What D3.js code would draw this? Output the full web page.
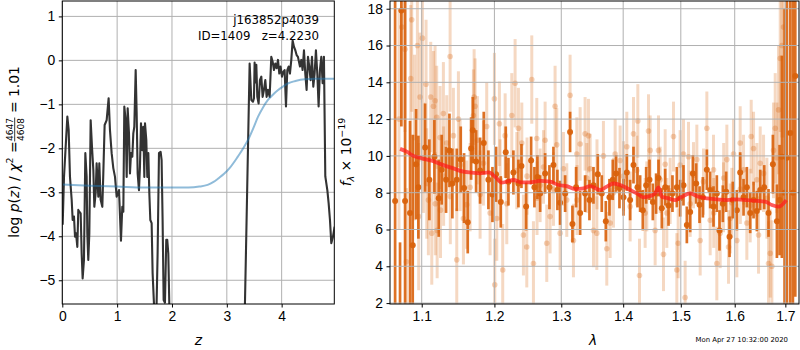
<!DOCTYPE html>
<html>
<head>
<meta charset="utf-8">
<script src="https://cdn.jsdelivr.net/npm/d3@7"></script>
<style>
  html, body { margin: 0; padding: 0; background: #fff; }
  svg { display: block; font-family: "DejaVu Sans", sans-serif; }
  .tick text { font-size: 13.9px; fill: #000; }
  .tick line { stroke: #000; }
</style>
</head>
<body>
<svg id="fig" width="800" height="350"></svg>
<script>
// ---- redshift probability, log p(z) ----
const pzZ = [0.007,0.031,0.092,0.116,0.140,0.171,0.189,0.213,0.232,0.250,0.274,0.292,0.310,0.335,0.353,0.371,0.395,0.420,0.444,0.456,0.474,0.493,0.517,0.541,0.566,0.584,0.608,0.626,0.657,0.675,0.699,0.730,0.748,0.772,0.809,0.845,0.869,0.900,0.930,
  0.961,0.991,1.034,1.070,1.094,1.113,1.131,1.155,1.174,1.192,1.216,1.234,1.253,1.277,1.295,1.313,1.338,1.356,1.374,1.398,1.416,1.435,1.459,1.477,1.496,1.508,1.532,1.550,1.569,1.587,1.605,1.629,1.647,1.671,1.690,1.720,1.738,1.763,1.793,1.811,1.829,1.848,1.872,1.896,1.914,1.933,1.951,1.975,
  2.2,2.6,3.0,3.30,
  3.416,3.447,3.477,3.495,3.507,3.525,3.538,3.556,3.580,3.604,3.629,3.653,3.677,3.702,3.726,3.750,3.781,3.811,3.836,3.860,3.884,3.908,3.933,3.957,3.981,4.006,4.030,4.054,4.079,4.103,4.127,4.151,4.176,4.200,4.224,4.249,4.273,4.297,4.334,4.358,4.382,4.407,4.431,4.455,4.480,4.504,4.528,4.553,4.577,4.601,4.625,4.650,4.674,4.698,4.723,4.747,4.771,4.796,4.833,4.857,4.881,4.905,4.936,4.966];
const pzLog = [-3.74,-2.65,-1.28,-1.58,-2.65,-3.17,-3.63,-3.55,-4.01,-3.93,-4.24,-3.40,-3.44,-3.48,-4.39,-4.96,-4.54,-2.11,-2.65,-3.93,-4.54,-3.93,-1.36,-1.96,-2.49,-3.33,-3.02,-2.34,-3.10,-2.34,-3.17,-3.33,-2.57,-1.47,-1.36,-0.86,-1.58,-2.11,-2.45,
  -2.65,-3.10,-2.95,-4.10,-3.33,-3.44,-1.05,-1.36,-2.65,-1.09,-1.66,-2.57,-2.11,-2.19,-1.66,-1.51,-0.22,-1.20,-2.57,-2.95,-2.42,-1.43,-2.04,-1.51,-2.65,-1.43,-1.81,-2.65,-2.11,-3.02,-3.63,-3.70,-4.84,-5.52,-6.05,-5.52,-4.39,-2.11,-2.08,-2.27,-3.63,-5.45,-5.51,-4.08,-4.08,-4.39,-5.52,-7.0,
  -9.0,-10.0,-9.5,-7.5,
  -0.07,-0.90,-0.94,-0.86,-0.05,-0.50,-0.10,-0.83,-0.98,-0.45,-0.37,-0.83,-0.67,-0.45,-0.83,-0.67,-0.83,0.08,-0.03,-0.22,-0.07,-0.18,0.01,-0.30,-0.14,-0.37,-0.26,-0.22,-1.05,-0.22,-0.14,-0.30,0.01,0.45,0.31,0.23,0.12,0.08,-0.14,0.01,-0.22,0.23,-0.30,-0.67,0.08,-0.14,-0.45,0.08,-0.60,-0.30,0.23,-0.30,-1.05,-0.22,0.08,-0.52,0.08,-2.64,-2.95,-3.25,-3.63,-4.16,-4.01,-3.78];

// smooth prior curve
const priorZ   = [0, 0.5, 1.0, 1.5, 2.0, 2.3, 2.5, 2.65, 2.75, 2.85, 2.95, 3.05, 3.2, 3.3, 3.39, 3.48, 3.57, 3.66, 3.75, 3.84, 3.93, 4.02, 4.12, 4.25, 4.42, 4.6, 4.8, 4.96];
const priorLog = [-2.82,-2.85,-2.87,-2.89,-2.89,-2.89,-2.87,-2.83,-2.77,-2.68,-2.58,-2.45,-2.19,-2.0,-1.8,-1.55,-1.28,-1.07,-0.90,-0.78,-0.68,-0.60,-0.52,-0.47,-0.43,-0.42,-0.42,-0.42];

const zTicks = [0, 1, 2, 3, 4];
const logTicks = [-5, -4, -3, -2, -1, 0, 1];

// ---- spectrum: lightly weighted points ----
const lightWave = [1.0741,1.0782,1.0869,1.0943,1.0856,1.1009,1.1057,1.0978,1.1119,1.1177,1.1155,1.1199,1.1289,1.1380,1.1494,1.1425,1.1244,1.1334,1.1088,1.1180,1.1250,1.1133,1.1471,1.1205,1.1609,1.1712,1.1726,1.1702,1.1758,1.1890,1.2000,1.2034,1.2072,1.2155,1.2120,1.2005,1.2252,1.2301,1.2350,1.2400,1.2424,1.2474,1.2549,1.2574,1.2624,1.2675,1.2751,1.2776,1.2827,1.2904,1.2930,1.2982,1.3086,1.3138,1.3191,1.3244,1.3297,1.3376,1.3430,1.3457,1.3511,1.3565,1.3673,1.3728,1.3783,1.3866,1.3949,1.4061,1.4117,1.4174,1.4248,1.4276,1.4373,1.4431,1.4460,1.4546,1.4605,1.4692,1.4722,1.4810,1.4869,1.4929,1.4953,1.5048,1.5078,1.5139,1.5230,1.5291,1.5352,1.5475,1.5537,1.5599,1.5661,1.5724,1.5787,1.5850,1.5882,1.5945,1.5977,1.6041,1.6105,1.6170,1.6234,1.6319,1.6365,1.6430,1.6463,1.6562,1.6661,1.6695,1.6728,1.6761,1.6795,1.6896,1.6929,1.6963,
  1.1022,1.1066,1.1292,1.1383,1.1517,1.1563,1.1656,1.1796,1.1843,1.1938,1.2082,1.2179,1.2326,1.2478,1.2628,1.2726,1.2879,1.3034,1.3248,1.3403,1.3568,1.3838,1.4005,1.4231,1.4402,1.4634,1.4751,1.4988,1.5169,1.5413,1.5603,1.5790,1.5914,1.6108,1.6299,1.6496,1.6628,1.6829,1.6862,
  1.0705,1.0800,1.0905,1.0960];
const lightFlux = [17.0,15.8,17.4,16.0,14.2,16.4,13.9,13.2,13.2,13.0,12.7,12.1,12.3,15.4,12.0,11.1,11.0,10.7,7.6,7.4,7.05,5.8,4.35,5.95,7.35,13.2,12.7,12.2,10.85,11.6,13.1,6.6,11.75,11.1,3.8,3.0,12.2,13.95,11.5,10.7,5.7,5.05,14.15,4.15,10.95,8.4,10.85,5.25,6.7,12.7,10.6,5.8,7.6,13.3,5.4,10.1,10.65,11.2,11.1,9.3,5.95,5.8,10.0,4.95,6.35,10.1,9.75,10.5,7.25,11.2,11.9,3.5,6.9,11.35,10.3,5.95,10.3,4.65,9.55,8.1,11.05,3.8,5.25,10.1,2.3,9.95,8.95,9.8,5.4,11.5,6.5,9.25,4.15,5.8,7.75,9.8,5.05,7.45,10.1,5.4,10.7,9.25,6.35,11.05,10.4,8.7,5.7,9.05,4.15,4.7,4.0,10.3,11.5,15.3,16.0,17.0,
  9.9,8.5,8.9,7.8,9.5,6.6,8.3,7.9,9.6,6.9,8.7,7.4,9.2,8.9,7.7,9.4,8.2,9.3,7.6,8.8,9.0,8.0,8.9,9.2,7.8,8.7,6.9,9.5,7.4,8.6,6.9,8.8,6.6,8.2,7.3,9.6,7.7,9.9,12.5,
  12.0,4.25,11.0,6.7];
const lightErr = [5,4.5,5,4,4,3.5,3.5,3.5,3,3,3,2.8,2.8,3,2.6,2.6,2.8,2.6,3,2.8,2.6,2.8,2.8,2.6,2.4,2.6,2.6,2.5,2.4,2.4,2.5,2.3,2.3,2.3,2.5,2.5,2.3,2.4,2.2,2.2,2.2,2.2,2.4,2.3,2.2,2.0,2.1,2.1,2.0,2.2,2.0,2.0,2.0,2.2,2.0,2.0,2.0,2.0,2.0,1.9,2.0,2.0,1.9,2.0,1.9,1.9,1.9,1.9,1.9,2.0,2.0,2.0,1.9,2.0,1.9,1.9,1.9,2.0,1.9,1.8,1.9,2.0,1.9,1.9,2.0,1.9,1.8,1.9,1.9,2.0,1.9,1.9,2.0,1.9,1.9,1.9,2.0,1.9,1.9,2.0,2.0,1.9,2.0,2.0,2.0,2.0,2.1,2.1,2.3,2.4,2.5,2.6,3,4,5,6,
  3,3,2.7,2.6,2.5,2.5,2.4,2.4,2.3,2.3,2.2,2.2,2.1,2.1,2.0,2.0,2.0,2.0,1.9,1.9,1.9,1.9,1.9,1.9,1.9,1.8,1.9,1.9,1.8,1.8,1.9,1.9,1.9,1.9,2.0,2.0,2.2,3.0,3.5,
  6,4,4.5,4];

// ---- spectrum: strongly weighted points ----
const darkWave = [1.0655,1.0718,1.0735,1.0783,1.0847,1.0882,1.0926,1.0956,1.1044,1.1101,1.1168,1.1226,1.1266,1.1325,1.1371,1.1411,1.1471,1.1526,1.1572,1.1623,1.1670,1.1693,1.1740,1.1796,1.1848,1.1914,1.1972,1.2024,1.2092,1.2164,1.2203,1.2276,1.2350,1.2395,1.2464,1.2539,1.2589,1.2634,1.2675,1.2751,1.2817,1.2879,1.2940,1.2982,1.3060,1.3138,1.3175,1.3233,1.3297,1.3376,1.3446,1.3511,1.3581,1.3646,1.3712,1.3772,1.3827,1.3883,1.3938,1.4005,1.4061,1.4117,1.4174,1.4242,1.4287,1.4333,1.4391,1.4448,1.4506,1.4563,1.4605,1.4663,1.4722,1.4781,1.4851,1.4929,1.4988,1.5048,1.5109,1.5169,1.5218,1.5279,1.5340,1.5401,1.5475,1.5537,1.5599,1.5661,1.5711,1.5774,1.5837,1.5901,1.5964,1.6041,1.6105,1.6170,1.6234,1.6299,1.6365,1.6430,1.6496,1.6575,1.6661,1.6748,1.6829,1.6883,1.6929,1.6984,1.7031,1.7100,1.7154,1.7203];
const darkFlux = [7.55,1.8,17.9,7.55,6.9,5.15,9.55,8.3,10.45,8.7,9.95,7.7,9.25,8.7,10.3,8.5,8.7,9.8,8.25,6.4,10.4,11.4,9.7,9.2,10.7,8.7,7.9,9.0,7.5,10.2,8.6,9.1,8.5,9.45,7.25,9.75,8.3,8.85,7.95,9.05,8.3,9.5,8.15,7.45,7.95,11.3,6.3,8.3,6.9,7.95,7.6,8.4,9.0,7.95,6.45,7.75,8.7,9.05,8.25,7.75,9.1,7.6,9.5,8.3,7.95,7.05,8.4,8.7,7.5,7.95,8.8,7.15,8.3,7.3,7.95,8.3,7.7,8.4,6.25,6.95,9.05,8.5,7.35,7.75,9.25,8.15,7.25,7.95,5.95,7.4,8.05,5.6,7.6,7.05,9.1,7.75,8.3,6.9,7.6,7.0,8.15,8.3,6.9,9.55,6.45,7.6,9.95,8.0,9.9,11.25,8.0,14.35];
const darkErr = [12,3.5,6.3,12,5.0,6.0,3.0,2.8,2.4,2.2,2.0,2.1,1.9,1.8,2.0,1.9,1.7,1.8,1.9,1.7,1.7,1.8,1.7,1.8,1.7,1.6,1.5,1.5,1.4,1.4,1.3,1.2,1.3,1.2,1.3,1.3,1.1,1.2,1.0,1.1,1.2,1.0,1.1,1.2,1.0,1.1,1.0,1.1,1.2,1.0,1.1,1.0,1.1,1.0,1.1,1.0,1.1,1.0,1.1,1.0,1.0,1.1,1.0,1.1,1.0,1.1,1.0,1.1,1.0,1.1,1.0,1.1,1.0,1.1,1.0,1.1,1.0,1.1,1.0,1.1,1.0,1.1,1.0,1.1,1.1,1.0,1.1,1.0,1.1,1.0,1.1,1.1,1.0,1.1,1.1,1.0,1.1,1.1,1.0,1.1,1.1,1.2,1.3,1.6,2.0,3.0,5.5,10,12,12,12,12];

// ---- best-fit model ----
const modelWave = [1.0718,1.0804,1.0891,1.1000,1.1133,1.1289,1.1425,1.1563,1.1679,1.1796,1.1914,1.2010,1.2106,1.2179,1.2276,1.2400,1.2524,1.2675,1.2827,1.2956,1.3086,1.3217,1.3350,1.3457,1.3619,1.3728,1.3838,1.3977,1.4117,1.4231,1.4345,1.4460,1.4546,1.4605,1.4663,1.4781,1.4899,1.5019,1.5169,1.5321,1.5475,1.5661,1.5850,1.6041,1.6234,1.6430,1.6595,1.6728,1.6862,1.7018];
const modelFlux = [10.38,10.23,10.0,9.87,9.74,9.5,9.32,9.14,9.09,9.05,9.1,8.87,8.55,8.6,8.69,8.56,8.56,8.64,8.6,8.42,8.36,8.2,8.24,8.36,8.15,8.33,8.5,8.38,8.15,7.96,7.75,7.82,7.96,8.29,7.78,7.69,7.6,7.78,7.96,7.78,7.69,7.64,7.6,7.64,7.6,7.55,7.51,7.33,7.24,7.6];

const waveTicks = [1.1, 1.2, 1.3, 1.4, 1.5, 1.6, 1.7];
const fluxTicks = [2, 4, 6, 8, 10, 12, 14, 16, 18];

const svg = d3.select("#fig");
const GRID = "#b0b0b0";
const ORANGE = "#d9620c";

// ===================== left panel: p(z) =====================
const L = { x0: 62.3, x1: 334.3, y0: 1, y1: 304 };
const xz = d3.scaleLinear().domain([0, 4.96]).range([L.x0, L.x1]);
const yp = d3.scaleLinear().domain([-5.54, 1.35]).range([L.y1, L.y0]);

svg.append("clipPath").attr("id", "clipL").append("rect")
  .attr("x", L.x0).attr("y", L.y0).attr("width", L.x1 - L.x0).attr("height", L.y1 - L.y0);

const gL = svg.append("g");
gL.append("g").selectAll("line").data(zTicks).join("line")
  .attr("x1", d => xz(d)).attr("x2", d => xz(d)).attr("y1", L.y0).attr("y2", L.y1)
  .attr("stroke", GRID).attr("stroke-width", 1);
gL.append("g").selectAll("line").data(logTicks).join("line")
  .attr("x1", L.x0).attr("x2", L.x1).attr("y1", d => yp(d)).attr("y2", d => yp(d))
  .attr("stroke", GRID).attr("stroke-width", 1);

const plotL = gL.append("g").attr("clip-path", "url(#clipL)");
plotL.append("path")
  .attr("d", d3.line().x(i => xz(pzZ[i])).y(i => yp(pzLog[i]))(d3.range(pzZ.length)))
  .attr("fill", "none").attr("stroke", "#333").attr("stroke-width", 2.1).attr("stroke-linejoin", "round");
plotL.append("path")
  .attr("d", d3.line().curve(d3.curveMonotoneX).x(i => xz(priorZ[i])).y(i => yp(priorLog[i]))(d3.range(priorZ.length)))
  .attr("fill", "none").attr("stroke", "#1f77b4").attr("stroke-opacity", 0.5).attr("stroke-width", 2);

gL.append("g").attr("transform", `translate(0,${L.y1})`)
  .call(d3.axisBottom(xz).tickValues(zTicks).tickFormat(d3.format("d")).tickSize(3.5).tickPadding(3.5))
  .call(g => g.select(".domain").remove());
gL.append("g").attr("transform", `translate(${L.x0},0)`)
  .call(d3.axisLeft(yp).tickValues(logTicks).tickFormat(d3.format("d")).tickSize(3.5).tickPadding(3.5))
  .call(g => g.select(".domain").remove());
gL.append("rect").attr("x", L.x0).attr("y", L.y0).attr("width", L.x1 - L.x0).attr("height", L.y1 - L.y0)
  .attr("fill", "none").attr("stroke", "#000").attr("stroke-width", 1);

gL.append("text").attr("x", 319).attr("y", 24).attr("text-anchor", "end")
  .attr("font-size", 11.8).text("j163852p4039");
gL.append("text").attr("x", 319).attr("y", 40).attr("text-anchor", "end")
  .attr("font-size", 11.8).attr("xml:space", "preserve").text("ID=1409   z=4.2230");

svg.append("text").attr("x", xz(2.48)).attr("y", 345).attr("text-anchor", "middle")
  .attr("font-size", 13.9).attr("font-style", "italic").text("z");

// y label with an inline fraction
{
  const g = svg.append("g");
  const t1 = g.append("text").attr("font-size", 13.9).attr("x", 0).attr("y", 0);
  t1.append("tspan").text("log ");
  t1.append("tspan").attr("font-style", "italic").text("p");
  t1.append("tspan").text("(");
  t1.append("tspan").attr("font-style", "italic").text("z");
  t1.append("tspan").text(") / ");
  t1.append("tspan").attr("font-style", "italic").text("χ");
  t1.append("tspan").attr("font-size", 9.5).attr("dy", -6).text("2");
  t1.append("tspan").attr("dy", 6).text(" = ");
  const w1 = t1.node().getComputedTextLength();
  const num = g.append("text").attr("font-size", 9).attr("text-anchor", "middle").attr("y", -6.5).text("4647");
  const fw = num.node().getComputedTextLength();
  num.attr("x", w1 + fw / 2 + 0.5);
  g.append("text").attr("font-size", 9).attr("text-anchor", "middle").attr("x", w1 + fw / 2 + 0.5).attr("y", 5).text("4608");
  g.append("line").attr("x1", w1).attr("x2", w1 + fw + 1).attr("y1", -4.3).attr("y2", -4.3)
    .attr("stroke", "#000").attr("stroke-width", 0.8);
  const t2 = g.append("text").attr("font-size", 13.9).attr("x", w1 + fw + 1).attr("y", 0)
    .attr("xml:space", "preserve").text(" = 1.01");
  const W = w1 + fw + 1 + t2.node().getComputedTextLength();
  g.attr("transform", `translate(19,${152 + W / 2}) rotate(-90)`);
}

// ===================== right panel: spectrum =====================
const R = { x0: 390, x1: 799, y0: 1, y1: 304 };
const xw = d3.scaleLog().domain([1.059, 1.728]).range([R.x0, R.x1]);
const yf = d3.scaleLinear().domain([1.95, 18.42]).range([R.y1, R.y0]);

svg.append("clipPath").attr("id", "clipR").append("rect")
  .attr("x", R.x0).attr("y", R.y0).attr("width", R.x1 - R.x0).attr("height", R.y1 - R.y0);

const gR = svg.append("g");
const plotR = gR.append("g").attr("clip-path", "url(#clipR)");
const lightIdx = d3.range(lightWave.length);
const darkIdx = d3.range(darkWave.length);

plotR.append("g").selectAll("line").data(lightIdx).join("line")
  .attr("x1", i => xw(lightWave[i])).attr("x2", i => xw(lightWave[i]))
  .attr("y1", i => yf(lightFlux[i] - lightErr[i])).attr("y2", i => yf(lightFlux[i] + lightErr[i]))
  .attr("stroke", ORANGE).attr("stroke-opacity", 0.25).attr("stroke-width", 3);
plotR.append("g").selectAll("circle").data(lightIdx).join("circle")
  .attr("cx", i => xw(lightWave[i])).attr("cy", i => yf(lightFlux[i])).attr("r", 2.8)
  .attr("fill", ORANGE).attr("fill-opacity", 0.28);
plotR.append("g").selectAll("line").data(darkIdx).join("line")
  .attr("x1", i => xw(darkWave[i])).attr("x2", i => xw(darkWave[i]))
  .attr("y1", i => yf(darkFlux[i] - darkErr[i])).attr("y2", i => yf(darkFlux[i] + darkErr[i]))
  .attr("stroke", ORANGE).attr("stroke-opacity", 0.9).attr("stroke-width", 2.7);
plotR.append("g").selectAll("circle").data(darkIdx).join("circle")
  .attr("cx", i => xw(darkWave[i])).attr("cy", i => yf(darkFlux[i])).attr("r", 3)
  .attr("fill", ORANGE).attr("fill-opacity", 0.95);

// grid sits above the error bars
gR.append("g").selectAll("line").data(waveTicks).join("line")
  .attr("x1", d => xw(d)).attr("x2", d => xw(d)).attr("y1", R.y0).attr("y2", R.y1)
  .attr("stroke", GRID).attr("stroke-width", 1);
gR.append("g").selectAll("line").data(fluxTicks).join("line")
  .attr("x1", R.x0).attr("x2", R.x1).attr("y1", d => yf(d)).attr("y2", d => yf(d))
  .attr("stroke", GRID).attr("stroke-width", 1);

gR.append("g").attr("clip-path", "url(#clipR)").append("path")
  .attr("d", d3.line().curve(d3.curveMonotoneX).x(i => xw(modelWave[i])).y(i => yf(modelFlux[i]))(d3.range(modelWave.length)))
  .attr("fill", "none").attr("stroke", "#ff1a1a").attr("stroke-opacity", 0.72).attr("stroke-width", 3.8)
  .attr("stroke-linejoin", "round");

gR.append("g").attr("transform", `translate(0,${R.y1})`)
  .call(d3.axisBottom(xw).tickValues(waveTicks).tickFormat(d3.format(".1f")).tickSize(3.5).tickPadding(3.5))
  .call(g => g.select(".domain").remove());
gR.append("g").attr("transform", `translate(${R.x0},0)`)
  .call(d3.axisLeft(yf).tickValues(fluxTicks).tickFormat(d3.format("d")).tickSize(3.5).tickPadding(3.5))
  .call(g => g.select(".domain").remove());
gR.append("rect").attr("x", R.x0).attr("y", R.y0).attr("width", R.x1 - R.x0).attr("height", R.y1 - R.y0)
  .attr("fill", "none").attr("stroke", "#000").attr("stroke-width", 1);

svg.append("text").attr("x", 593).attr("y", 345).attr("text-anchor", "middle")
  .attr("font-size", 13.9).attr("font-style", "italic").text("λ");

{
  const t = svg.append("text").attr("font-size", 13.9).attr("text-anchor", "middle")
    .attr("transform", "translate(351,152) rotate(-90)");
  t.append("tspan").attr("font-style", "italic").text("f");
  t.append("tspan").attr("font-style", "italic").attr("font-size", 9.5).attr("dy", 3).text("λ");
  t.append("tspan").attr("dy", -3).text(" × 10");
  t.append("tspan").attr("font-size", 9.5).attr("dy", -6).text("−19");
}

svg.append("text").attr("x", 788).attr("y", 342).attr("text-anchor", "end")
  .attr("font-size", 6.9).text("Mon Apr 27 10:32:00 2020");
</script>
</body>
</html>
